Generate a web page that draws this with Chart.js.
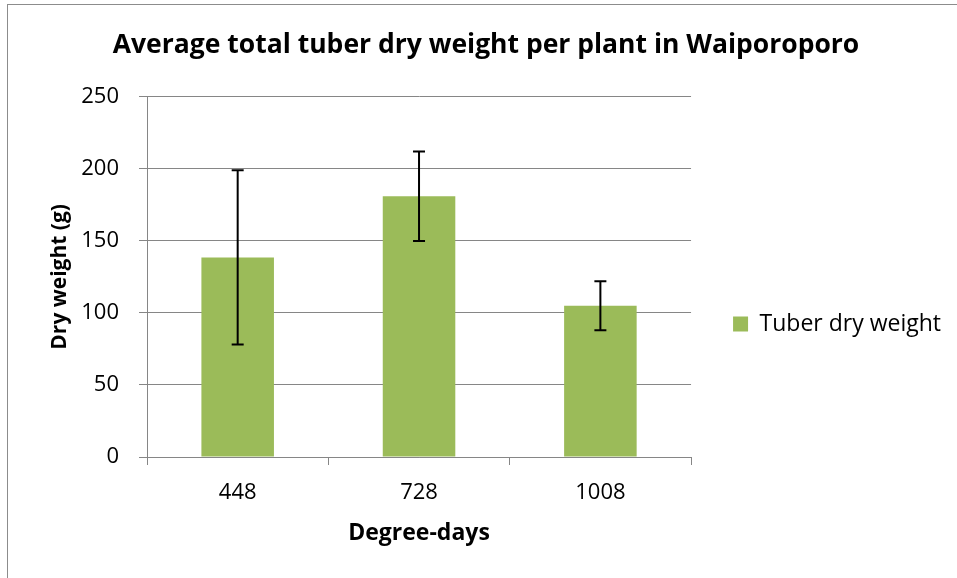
<!DOCTYPE html>
<html>
<head>
<meta charset="utf-8">
<script src="https://cdn.jsdelivr.net/npm/chart.js@4.4.1/dist/chart.umd.min.js"></script>
<style>
  html, body { margin: 0; padding: 0; background: #fff; overflow: hidden; }
  #wrap { position: relative; width: 957px; height: 578px; }
  #frame { position: absolute; left: 7px; top: 4px; right: -5px; bottom: -5px; border-left: 1px solid #8c8c8c; border-top: 1px solid #8c8c8c; }
  canvas { position: absolute; left: 0; top: 0; }
</style>
</head>
<body>
<div id="wrap">
  <div id="frame"></div>
  <canvas id="tuberChart" width="957" height="578"></canvas>
</div>
<script>
// datos
const degreeDays = ["448", "728", "1008"];
const dryWeight = [138.5, 181, 105];
const dryWeightErr = [60.5, 31, 17];
const yTicks = [0, 50, 100, 150, 200, 250];

const FONT = "'Open Sans', 'Noto Sans', sans-serif";
const GRID = "#868686";

// barras de error (media +/- error)
const errorBars = {
    id: "errorBars",
    afterDatasetsDraw(chart) {
        const ctx = chart.ctx;
        const yScale = chart.scales.y;
        const meta = chart.getDatasetMeta(0);
        ctx.save();
        ctx.strokeStyle = "#000";
        ctx.lineWidth = 2;
        meta.data.forEach((bar, i) => {
            const top = yScale.getPixelForValue(dryWeight[i] + dryWeightErr[i]);
            const bottom = yScale.getPixelForValue(dryWeight[i] - dryWeightErr[i]);
            ctx.beginPath();
            ctx.moveTo(bar.x, top);
            ctx.lineTo(bar.x, bottom);
            ctx.moveTo(bar.x - 6, top);
            ctx.lineTo(bar.x + 6, top);
            ctx.moveTo(bar.x - 6, bottom);
            ctx.lineTo(bar.x + 6, bottom);
            ctx.stroke();
        });
        ctx.restore();
    }
};

const ctx = document.getElementById("tuberChart").getContext("2d");
new Chart(ctx, {
    type: "bar",
    data: {
        labels: degreeDays,
        datasets: [{
            label: "Tuber dry weight",
            data: dryWeight,
            backgroundColor: "#9BBB59",
            borderWidth: 0,
            barPercentage: 0.4,
            categoryPercentage: 1
        }]
    },
    options: {
        responsive: false,
        animation: false,
        layout: { padding: { left: 21, right: 6, top: 10, bottom: 0 } },
        plugins: {
            title: {
                display: true,
                text: "Average total tuber dry weight per plant in Waiporoporo",
                color: "#000",
                font: { family: FONT, size: 26.5, weight: "bold" },
                padding: { top: 20, bottom: 35 }
            },
            legend: {
                position: "right",
                maxWidth: 300,
                title: { display: true, text: " ", font: { size: 10 }, padding: { top: 24, bottom: 24 } },
                labels: {
                    boxWidth: 15,
                    boxHeight: 15,
                    padding: 10,
                    color: "#000",
                    font: { family: FONT, size: 23 }
                }
            },
            tooltip: { enabled: false }
        },
        scales: {
            x: {
                offset: true,
                afterFit: s => { s.height = 121; },
                grid: { display: true, drawOnChartArea: false, drawTicks: true, tickLength: 8, color: GRID, offset: true },
                border: { color: GRID },
                ticks: { color: "#000", padding: 15, font: { family: FONT, size: 22 } },
                title: {
                    display: true,
                    text: "Degree-days",
                    color: "#000",
                    font: { family: FONT, size: 23, weight: "bold" },
                    padding: { top: 4, bottom: 31 }
                }
            },
            y: {
                min: yTicks[0],
                max: yTicks[yTicks.length - 1],
                afterFit: s => { s.width = 126; },
                afterBuildTicks: s => { s.ticks = yTicks.map(v => ({ value: v })); },
                grid: { color: GRID, tickLength: 8, drawTicks: true },
                border: { color: GRID },
                ticks: { color: "#000", padding: 20, font: { family: FONT, size: 22 } },
                title: {
                    display: true,
                    text: "Dry weight (g)",
                    color: "#000",
                    font: { family: FONT, size: 21, weight: "bold" },
                    padding: { top: 26, bottom: 0 }
                }
            },
            gap: {
                position: "right",
                display: true,
                afterFit: s => { s.width = 32; },
                grid: { display: false },
                border: { display: false },
                ticks: { display: false }
            }
        }
    },
    plugins: [errorBars]
});
</script>
</body>
</html>
